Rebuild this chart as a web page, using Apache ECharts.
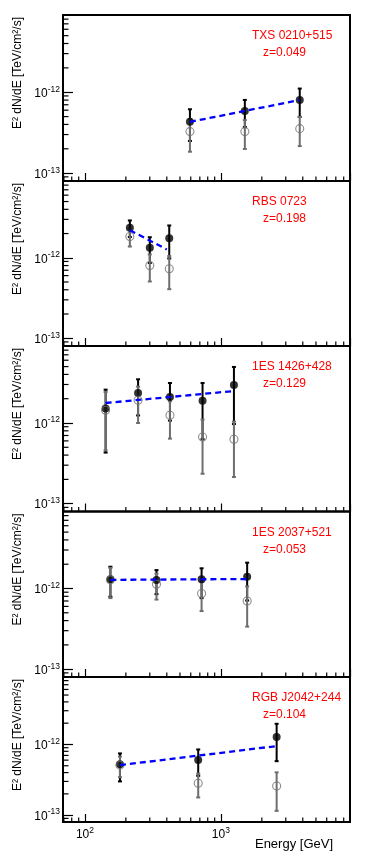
<!DOCTYPE html>
<html><head><meta charset="utf-8">
<script src="https://cdn.jsdelivr.net/npm/echarts@6/dist/echarts.min.js"></script>
<style>html,body{margin:0;padding:0;background:#fff}#c{width:390px;height:859px}</style>
</head><body><div id="c"></div><script>
// ---------- data ----------
const sourceNames = ['TXS 0210+515', 'RBS 0723', '1ES 1426+428', '1ES 2037+521', 'RGB J2042+244'];
const redshifts = ['z=0.049', 'z=0.198', 'z=0.129', 'z=0.053', 'z=0.104'];

// TXS 0210+515
const txsE = [592, 1500, 3800];
const txsFlux = [4.33e-13, 5.87e-13, 8.03e-13];
const txsLo = [2.5e-13, 3.71e-13, 4.96e-13];
const txsHi = [6.16e-13, 8.03e-13, 1.11e-12];
const txsFluxG = [3.26e-13, 3.26e-13, 3.55e-13];
const txsLoG = [1.84e-13, 1.99e-13, 2.16e-13];
const txsHiG = [4.68e-13, 4.53e-13, 4.94e-13];
const txsFitE = [592, 3780];
const txsFitF = [4.3e-13, 8.0e-13];

// RBS 0723
const rbsE = [214, 300, 417];
const rbsFlux = [2.36e-12, 1.33e-12, 1.75e-12];
const rbsLo = [1.81e-12, 0.86e-12, 0.98e-12];
const rbsHi = [2.91e-12, 1.80e-12, 2.52e-12];
const rbsFluxG = [1.84e-12, 8.0e-13, 7.3e-13];
const rbsLoG = [1.38e-12, 5.07e-13, 4.07e-13];
const rbsHiG = [2.30e-12, 1.10e-12, 1.05e-12];
const rbsFitE = [214, 400];
const rbsFitF = [2.2e-12, 1.27e-12];

// 1ES 1426+428
const es1426E = [142, 246, 422, 733, 1247];
const es1426Flux = [1.51e-12, 2.36e-12, 2.10e-12, 1.88e-12, 2.96e-12];
const es1426Lo = [0.43e-12, 1.24e-12, 1.07e-12, 0.63e-12, 0.97e-12];
const es1426Hi = [2.59e-12, 3.48e-12, 3.13e-12, 3.13e-12, 4.95e-12];
const es1426FluxG = [1.44e-12, 1.91e-12, 1.25e-12, 6.7e-13, 6.28e-13];
const es1426LoG = [4.58e-13, 1.0e-12, 6.4e-13, 2.35e-13, 2.14e-13];
const es1426HiG = [2.42e-12, 2.82e-12, 1.86e-12, 1.1e-12, 1.04e-12];
const es1426FitE = [142, 1247];
const es1426FitF = [1.77e-12, 2.49e-12];

// 1ES 2037+521
const es2037E = [154, 336, 721, 1560];
const es2037Flux = [1.30e-12, 1.27e-12, 1.30e-12, 1.40e-12];
const es2037Lo = [7.9e-13, 8.5e-13, 7.6e-13, 7.1e-13];
const es2037Hi = [1.86e-12, 1.69e-12, 1.78e-12, 2.09e-12];
const es2037FluxG = [1.28e-12, 1.13e-12, 8.66e-13, 7.0e-13];
const es2037LoG = [7.6e-13, 7.29e-13, 5.25e-13, 3.37e-13];
const es2037HiG = [1.8e-12, 1.53e-12, 1.2e-12, 1.06e-12];
const es2037FitE = [154, 1560];
const es2037FitF = [1.28e-12, 1.31e-12];

// RGB J2042+244
const rgbE = [181, 681, 2570];
const rgbFlux = [5.23e-13, 6.05e-13, 1.27e-12];
const rgbLo = [3.0e-13, 3.6e-13, 5.8e-13];
const rgbHi = [7.47e-13, 8.5e-13, 1.96e-12];
const rgbFluxG = [5.1e-13, 2.82e-13, 2.59e-13];
const rgbLoG = [3.45e-13, 1.78e-13, 1.15e-13];
const rgbHiG = [6.75e-13, 3.86e-13, 4.03e-13];
const rgbFitE = [181, 2540];
const rgbFitF = [5.1e-13, 9.46e-13];

// axes
const xMin = 69, xMax = 8900;
const yMin = 8e-14, yMax = 9e-12;
const yMinorTicks = [9e-14, 2e-13, 3e-13, 4e-13, 5e-13, 6e-13, 7e-13, 8e-13, 9e-13,
  2e-12, 3e-12, 4e-12, 5e-12, 6e-12, 7e-12, 8e-12];
const xMinorTicks = [70, 80, 90, 200, 300, 400, 500, 600, 700, 800, 900,
  2000, 3000, 4000, 5000, 6000, 7000, 8000];
const yTitle = 'E² dN/dE [TeV/cm²/s]';
const xTitle = 'Energy [GeV]';

// ---------- build ----------
const panels = [
  [txsE, txsFlux, txsLo, txsHi, txsFluxG, txsLoG, txsHiG, txsFitE, txsFitF],
  [rbsE, rbsFlux, rbsLo, rbsHi, rbsFluxG, rbsLoG, rbsHiG, rbsFitE, rbsFitF],
  [es1426E, es1426Flux, es1426Lo, es1426Hi, es1426FluxG, es1426LoG, es1426HiG, es1426FitE, es1426FitF],
  [es2037E, es2037Flux, es2037Lo, es2037Hi, es2037FluxG, es2037LoG, es2037HiG, es2037FitE, es2037FitF],
  [rgbE, rgbFlux, rgbLo, rgbHi, rgbFluxG, rgbLoG, rgbHiG, rgbFitE, rgbFitF]
];

const FONT = '"Liberation Sans", Arial, sans-serif';
const gridTops = [15, 181, 346, 511.5, 677];
const gridHeights = [166, 165, 165.5, 165.5, 145];
const GREY = '#6e6e6e';

function isDecade(v) {
  const l = Math.log10(v);
  return Math.abs(l - Math.round(l)) < 1e-6;
}
function powLabel(v) {
  if (!isDecade(v)) return '';
  return '{b|10}{s|' + Math.round(Math.log10(v)) + '}';
}
const richLab = {
  b: { fontSize: 12, fontFamily: FONT, color: '#000', lineHeight: 15, verticalAlign: 'bottom' },
  s: { fontSize: 8.5, fontFamily: FONT, color: '#000', lineHeight: 9, verticalAlign: 'top' }
};

function errRender(color, capHalf, lw) {
  return function (params, api) {
    const x = api.value(0), lo = api.value(1), hi = api.value(2);
    const p1 = api.coord([x, lo]), p2 = api.coord([x, hi]);
    const st = { stroke: color, lineWidth: lw };
    return {
      type: 'group', children: [
        { type: 'line', shape: { x1: p1[0], y1: p1[1], x2: p2[0], y2: p2[1] }, style: st },
        { type: 'line', shape: { x1: p1[0] - capHalf, y1: p1[1], x2: p1[0] + capHalf, y2: p1[1] }, style: st },
        { type: 'line', shape: { x1: p2[0] - capHalf, y1: p2[1], x2: p2[0] + capHalf, y2: p2[1] }, style: st }
      ]
    };
  };
}
function yMinorRender(params, api) {
  const y = api.coord([api.value(0), api.value(1)])[1];
  const x0 = params.coordSys.x;
  return { type: 'group', children: [
    { type: 'line', shape: { x1: x0, y1: y, x2: x0 + 5.5, y2: y }, style: { stroke: '#000', lineWidth: 1.2 } }
  ] };
}
function xMinorRender(params, api) {
  const x = api.coord([api.value(0), api.value(1)])[0];
  const y0 = params.coordSys.y + params.coordSys.height;
  return { type: 'group', children: [
    { type: 'line', shape: { x1: x, y1: y0, x2: x, y2: y0 - 4.5 }, style: { stroke: '#000', lineWidth: 1.2 } }
  ] };
}

const grid = [], xAxis = [], yAxis = [], series = [], graphic = [];
panels.forEach((p, i) => {
  const [E, F, lo, hi, FG, loG, hiG, fitE, fitF] = p;
  grid.push({ left: 63, right: 40, top: gridTops[i], height: gridHeights[i],
    show: true, borderColor: '#000', borderWidth: 2, backgroundColor: 'transparent' });
  xAxis.push({
    type: 'log', logBase: 10, gridIndex: i, min: xMin, max: xMax,
    axisLine: { show: true, lineStyle: { color: '#000', width: 1 } }, splitLine: { show: false },
    axisTick: { show: true, inside: true, length: 8, lineStyle: { color: '#000', width: 1.2 } },
    axisLabel: { show: i === 4, formatter: powLabel, rich: richLab, margin: 4, showMinLabel: false, showMaxLabel: false }
  });
  yAxis.push({
    type: 'log', logBase: 10, gridIndex: i, min: yMin, max: yMax,
    axisLine: { show: true, lineStyle: { color: '#000', width: 1 } }, splitLine: { show: false },
    axisTick: { show: true, inside: true, length: 10, lineStyle: { color: '#000', width: 1.2 } },
    axisLabel: { formatter: powLabel, rich: richLab, margin: 3, showMinLabel: false, showMaxLabel: false }
  });
  series.push({
    type: 'custom', xAxisIndex: i, yAxisIndex: i, z: 7,
    data: yMinorTicks.map(v => [300, v]), renderItem: yMinorRender, encode: { x: 0, y: 1 }
  });
  series.push({
    type: 'custom', xAxisIndex: i, yAxisIndex: i, z: 7,
    data: xMinorTicks.map(v => [v, 1e-12]), renderItem: xMinorRender, encode: { x: 0, y: 1 }
  });
  series.push({
    type: 'custom', xAxisIndex: i, yAxisIndex: i, z: 2,
    data: E.map((e, k) => [e, lo[k], hi[k]]), renderItem: errRender('#000', 2, 2),
    encode: { x: 0, y: [1, 2] }
  });
  series.push({
    type: 'custom', xAxisIndex: i, yAxisIndex: i, z: 3,
    data: E.map((e, k) => [e, loG[k], hiG[k]]), renderItem: errRender(GREY, 2, 2),
    encode: { x: 0, y: [1, 2] }
  });
  series.push({
    type: 'scatter', xAxisIndex: i, yAxisIndex: i, z: 4, symbol: 'circle', symbolSize: 8,
    itemStyle: { color: '#000' }, data: E.map((e, k) => [e, F[k]])
  });
  series.push({
    type: 'scatter', xAxisIndex: i, yAxisIndex: i, z: 5, symbol: 'circle', symbolSize: 8,
    itemStyle: { color: 'rgba(0,0,0,0)', borderColor: GREY, borderWidth: 1.1 },
    data: E.map((e, k) => [e, FG[k]])
  });
  series.push({
    type: 'line', xAxisIndex: i, yAxisIndex: i, z: 6, showSymbol: false, symbol: 'none',
    lineStyle: { color: '#0000ff', width: 2.3, type: [6, 4] },
    data: fitE.map((e, k) => [e, fitF[k]])
  });
  graphic.push({ type: 'text', x: 252, y: gridTops[i] + 21,
    style: { text: sourceNames[i], fill: '#ff0000', font: '12px ' + FONT, textAlign: 'left', textVerticalAlign: 'middle' } });
  graphic.push({ type: 'text', x: 263, y: gridTops[i] + 38,
    style: { text: redshifts[i], fill: '#ff0000', font: '12px ' + FONT, textAlign: 'left', textVerticalAlign: 'middle' } });
  graphic.push({ type: 'text', x: 18, y: gridTops[i] + 2, rotation: Math.PI / 2,
    style: { text: yTitle, fill: '#000', font: '12px ' + FONT, textAlign: 'right', textVerticalAlign: 'middle' } });
});
graphic.push({ type: 'text', x: 333, y: 844,
  style: { text: xTitle, fill: '#000', font: '13px ' + FONT, textAlign: 'right', textVerticalAlign: 'middle' } });

const chart = echarts.init(document.getElementById('c'), null, { renderer: 'canvas' });
chart.setOption({ animation: false, backgroundColor: '#fff', grid, xAxis, yAxis, series, graphic });
</script></body></html>
